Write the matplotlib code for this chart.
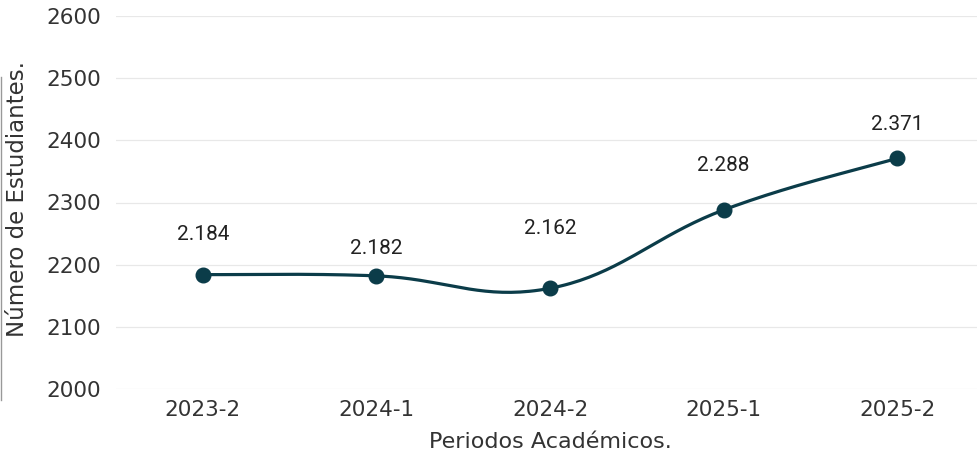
import numpy as np
import matplotlib
matplotlib.use("Agg")
import matplotlib.pyplot as plt
from matplotlib.lines import Line2D

periodos = ["2023-2", "2024-1", "2024-2", "2025-1", "2025-2"]
estudiantes = [2184, 2182, 2162, 2288, 2371]
y_ticks = [2000, 2100, 2200, 2300, 2400, 2500, 2600]

LINE_COLOR = "#0b3c49"
TEXT_COLOR = "#333333"
# offset (points) of each value label above its point
label_offsets = [29, 20, 43, 32, 24.5]


def spline_curve(xs, ys, tension=0.4, n=40):
    # chart.js style cardinal spline through the points
    xs = np.asarray(xs, float)
    ys = np.asarray(ys, float)
    out_x, out_y = [], []
    m = len(xs)
    for i in range(m - 1):
        p0 = (xs[max(i - 1, 0)], ys[max(i - 1, 0)])
        p1 = (xs[i], ys[i])
        p2 = (xs[i + 1], ys[i + 1])
        p3 = (xs[min(i + 2, m - 1)], ys[min(i + 2, m - 1)])
        c1 = (p1[0] + (p2[0] - p0[0]) * tension / 2, p1[1] + (p2[1] - p0[1]) * tension / 2)
        c2 = (p2[0] - (p3[0] - p1[0]) * tension / 2, p2[1] - (p3[1] - p1[1]) * tension / 2)
        t = np.linspace(0, 1, n)
        bx = (1 - t) ** 3 * p1[0] + 3 * (1 - t) ** 2 * t * c1[0] + 3 * (1 - t) * t ** 2 * c2[0] + t ** 3 * p2[0]
        by = (1 - t) ** 3 * p1[1] + 3 * (1 - t) ** 2 * t * c1[1] + 3 * (1 - t) * t ** 2 * c2[1] + t ** 3 * p2[1]
        out_x.extend(bx)
        out_y.extend(by)
    return np.array(out_x), np.array(out_y)


fig = plt.figure(figsize=(9.77, 4.55), dpi=100)
ax = fig.add_axes([116 / 977, 66 / 455, 868 / 977, 373 / 455])

x = np.arange(len(periodos))
sx, sy = spline_curve(x, estudiantes)
ax.plot(sx, sy, color=LINE_COLOR, lw=2.3, zorder=3, solid_capstyle="round")
ax.plot(x, estudiantes, "o", color=LINE_COLOR, ms=10.5, zorder=4)

for xi, v, off in zip(x, estudiantes, label_offsets):
    txt = f"{v:,}".replace(",", ".")
    ax.annotate(txt, (xi, v), xytext=(0, off), textcoords="offset points",
                ha="center", va="center", fontsize=15, family="Roboto", color="#222222")

ax.set_xlim(-0.5, len(periodos) - 0.5)
ax.set_ylim(2000, 2600)
ax.set_yticks(y_ticks)
ax.set_xticks(x)
ax.set_xticklabels(periodos)
ax.grid(axis="y", color="#e8e8e8", lw=0.9)
ax.set_axisbelow(True)
for s in ax.spines.values():
    s.set_visible(False)
ax.tick_params(length=0, labelsize=15.5, labelcolor=TEXT_COLOR)
ax.tick_params(axis="y", pad=11)
ax.tick_params(axis="x", pad=8)

fig.text(18 / 977, 1 - 199 / 455, "Número de Estudiantes.", rotation=90,
         ha="center", va="center", fontsize=16.5, color=TEXT_COLOR)
fig.text(550 / 977, 1 - 442 / 455, "Periodos Académicos.",
         ha="center", va="center", fontsize=16, color=TEXT_COLOR)
fig.add_artist(Line2D([1.2 / 977, 1.2 / 977], [1 - 400 / 455, 1 - 77 / 455],
                      transform=fig.transFigure, color="#999999", lw=1))

fig.savefig("out.png", dpi=100)
